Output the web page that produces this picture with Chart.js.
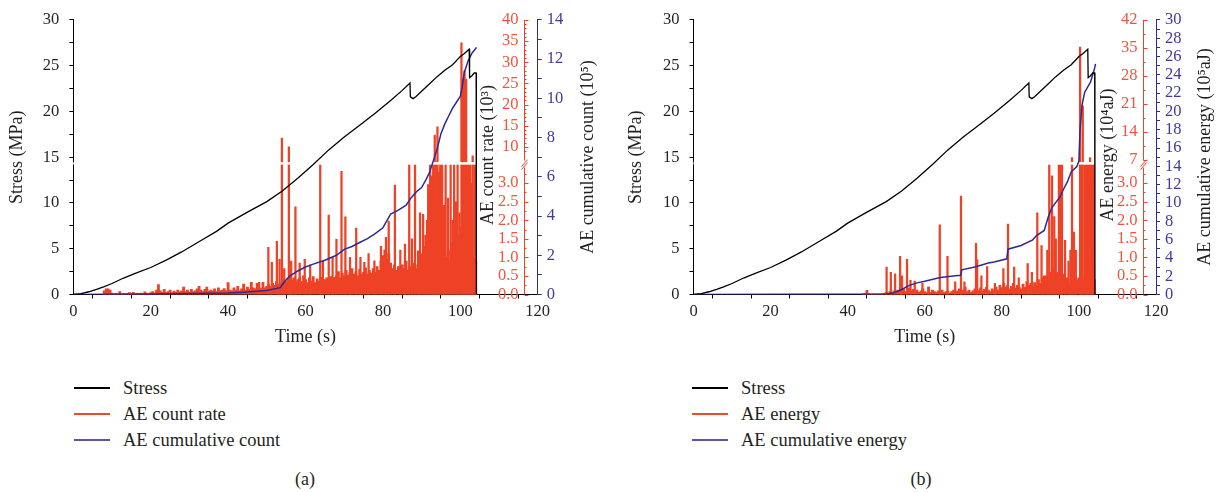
<!DOCTYPE html>
<html>
<head>
<meta charset="utf-8">
<script src="https://cdn.jsdelivr.net/npm/chart.js@4/dist/chart.umd.min.js"></script>
<style>
  body { margin: 0; background: #fff; width: 1221px; height: 492px; position: relative; overflow: hidden;
         font-family: "Liberation Serif", "DejaVu Serif", serif; color: #231f20; }
  canvas { position: absolute; top: 0; }
  #ca { left: 0; }
  #cb { left: 610px; }
  .leg { position: absolute; top: 375px; font-size: 18.5px; }
  .row { position: relative; height: 26px; line-height: 26px; white-space: nowrap; }
  .sw { position: absolute; left: 0; top: 12px; width: 36px; height: 1.6px; }
  .row span { position: absolute; left: 49px; }
  .cap { position: absolute; top: 469px; width: 40px; text-align: center; font-size: 18px; }
</style>
</head>
<body>
<canvas id="ca" width="610" height="360"></canvas>
<canvas id="cb" width="611" height="360"></canvas>

<div class="leg" style="left:74px">
  <div class="row"><div class="sw" style="background:#000"></div><span>Stress</span></div>
  <div class="row"><div class="sw" style="background:#ee4a30"></div><span>AE count rate</span></div>
  <div class="row"><div class="sw" style="background:#5a56b0"></div><span>AE cumulative count</span></div>
</div>
<div class="leg" style="left:692px">
  <div class="row"><div class="sw" style="background:#000"></div><span>Stress</span></div>
  <div class="row"><div class="sw" style="background:#ee4a30"></div><span>AE energy</span></div>
  <div class="row"><div class="sw" style="background:#5a56b0"></div><span>AE cumulative energy</span></div>
</div>
<div class="cap" style="left:285px">(a)</div>
<div class="cap" style="left:901px">(b)</div>

<script>
// stress curve (same test for both panels)
const stressT = [0, 2, 4, 6, 8, 10, 13, 16, 20, 24, 28, 33, 37, 40, 45, 50, 54, 58, 62, 66, 70, 74, 78, 82, 85, 87,
  87.1, 87.8, 88.5, 90, 92, 94, 96, 98, 100, 101, 102.3, 102.4, 103, 103.6, 104.1, 104.15];
const stressV = [0, 0.1, 0.3, 0.55, 0.85, 1.2, 1.8, 2.3, 2.95, 3.75, 4.65, 5.9, 6.9, 7.8, 9.0, 10.15, 11.3, 12.7, 14.2, 15.8, 17.2, 18.5, 19.8, 21.2, 22.3, 23.1,
  21.6, 21.4, 21.6, 22.2, 23.0, 23.8, 24.5, 25.1, 26.0, 26.3, 26.8, 23.7, 23.9, 24.2, 24.2, 0];

// AE count rate (10^3), background readings every 0.5 s from 8 s, plus single spikes
const rateStart = 8;
const rateBase = [
  .10, .15, .15, .12, .04, .02, .03, .02, .08, .02, .03, .02, .03, .05, .02, .06, .02, .03, .02, .04,
  .02, .07, .03, .02, .05, .08, .04, .12, .27, .10, .06, .14, .05, .08, .12, .05, .09, .06, .12, .07,
  .10, .20, .08, .12, .06, .14, .08, .10, .15, .22, .12, .08, .14, .20, .09, .12, .10, .15, .08, .18,
  .10, .12, .16, .10, .32, .12, .10, .18, .12, .22, .10, .15, .28, .12, .20, .14, .33, .18, .15, .30,
  .20, .16, .33, .18, .22, .28, .22, .30, .25, .35, .28, .30, .38, .30, .35, .42, .30, .38, .45, .32,
  .40, .45, .35, .50, .40, .32, .45, .36, .48, .32, .42, .36, .46, .30, .40, .45, .34, .48, .38, .46,
  .50, .62, .45, .58, .50, .65, .52, .60, .70, .55, .62, .50, .68, .55, .60, .72, .55, .65, .58, .70,
  .60, .75, .65, .90, 1.05, 1.2, .95, 1.1, .85, .70, .80, .65, .75, .60, .80, .70, .90, .65, .75, .60,
  .85, .70, .80, .95, 1.1, .90, 1.3, 2.0, 2.4, 2.6, 2.8, 2.5, 2.2, 2.0, 1.6, 1.3, 1.1, 1.0, .90, 1.2,
  1.4, 1.6, 1.3, 1.6, 1.8, 1.5, 1.3, 1.0, .90, 1.1, .85, 1.0, .90
];
const rateSpikes = [
  [48.0, 0.33], [50.4, 1.27], [51.3, 0.87], [52.6, 1.43], [53.3, 0.95], [53.9, 12.1], [54.5, 0.7], [55.7, 10.0],
  [56.3, 0.9], [57.4, 2.36], [58.5, 0.85], [59.8, 0.95], [61.2, 0.8], [63.8, 5.0], [64.5, 0.9], [66.0, 2.14],
  [67.0, 1.0], [68.0, 1.49], [69.3, 3.32], [70.3, 2.09], [71.5, 1.0], [73.1, 1.79], [74.2, 1.0], [75.2, 0.87],
  [76.3, 1.1], [77.8, 0.91], [79.5, 1.3], [80.8, 1.54], [81.5, 1.98], [83.1, 2.95], [84.5, 1.2], [85.7, 1.36],
  [86.8, 5.0], [87.5, 1.5], [88.3, 4.5], [89.1, 1.18], [89.6, 2.2], [90.4, 2.16], [91.0, 1.6], [91.7, 2.96],
  [92.2, 5.0], [92.7, 3.2], [93.0, 5.0], [93.4, 12.8], [93.8, 5.0], [94.1, 14.7], [94.5, 3.3], [94.8, 5.0],
  [95.3, 5.0], [95.8, 2.4], [96.2, 5.0], [96.8, 2.6], [97.5, 5.0], [98.0, 2.0], [98.4, 5.0], [98.9, 2.5],
  [99.3, 5.0], [99.8, 2.2], [100.3, 34.6], [100.7, 26.0], [101.1, 28.0], [101.5, 26.0], [101.8, 5.0],
  [102.2, 5.0], [102.6, 5.0], [103.0, 3.0], [103.2, 7.9], [103.7, 5.0], [104.0, 5.0]
];

// AE cumulative count (10^5)
const cumCountT = [0, 20, 40, 45, 50, 53.5, 54, 55, 56, 58, 60, 62, 65, 68, 70, 72, 74, 76, 78, 80, 81, 82, 84, 86, 87,
  88, 89, 90, 91, 92, 93, 94, 95, 96, 97, 98, 99, 100, 100.5, 101, 102, 103, 104.2];
const cumCountV = [0, 0.02, 0.08, 0.13, 0.2, 0.35, 0.5, 0.75, 0.95, 1.2, 1.4, 1.55, 1.75, 2.0, 2.3, 2.45, 2.65, 2.85, 3.1, 3.4, 3.75, 4.1, 4.3, 4.55, 4.85,
  5.1, 5.3, 5.45, 5.8, 6.2, 6.8, 7.4, 8.2, 8.7, 9.1, 9.5, 9.8, 10.1, 10.6, 11.3, 11.9, 12.3, 12.6];

// AE energy (10^4 aJ), background every 0.5 s from 44 s, plus single spikes
const energyStart = 44;
const energyBase = [
  .02, .03, .11, .02, .01, .02, .01, .02, .01, .02, .02, .03, .06, .04, .08, .05, .10, .06, .12, .08,
  .10, .15, .08, .12, .18, .10, .14, .08, .12, .06, .10, .15, .08, .05, .20, .06, .12, .08, .05, .10,
  .06, .12, .05, .08, .10, .04, .08, .12, .06, .10, .15, .08, .12, .20, .08, .12, .06, .10, .15, .08,
  .12, .18, .10, .14, .20, .12, .08, .15, .10, .20, .12, .25, .18, .30, .20, .25, .15, .22, .30, .18,
  .25, .20, .15, .28, .20, .35, .25, .30, .20, .32, .25, .40, .30, .45, .35, .50, .40, .60, .50, .70,
  .45, .60, .50, .40, .55, .35, .45, .30, .40, .35, .50, .40, .45, .40, .35, .45, .30, .40, .35, .50,
  .40
];
const energySpikes = [
  [50.1, 0.74], [51.2, 0.6], [52.3, 0.56], [53.6, 1.03], [54.1, 0.5], [55.4, 0.95], [56.3, 0.38], [57.4, 0.36],
  [59.4, 0.3], [61.0, 0.2], [63.9, 1.88], [65.9, 1.03], [67.9, 0.34], [69.4, 2.65], [70.3, 0.34], [73.3, 1.38],
  [73.6, 0.94], [74.7, 0.5], [76.2, 0.75], [78.2, 0.3], [80.4, 0.7], [81.6, 1.9], [83.2, 0.74], [84.4, 0.45],
  [86.7, 0.83], [87.8, 0.6], [89.2, 2.2], [90.3, 1.32], [90.9, 0.5], [91.8, 1.2], [92.3, 5.0], [93.0, 3.2],
  [93.6, 2.1], [94.0, 1.5], [94.8, 5.0], [95.3, 5.0], [95.6, 5.0], [96.4, 1.46], [97.3, 0.9], [97.8, 1.2],
  [98.2, 7.5], [98.7, 1.68], [99.2, 1.19], [100.3, 35.2], [100.6, 5.0], [101.0, 20.5], [101.6, 5.0],
  [102.0, 5.0], [102.4, 5.0], [102.9, 7.5], [103.4, 5.0], [103.9, 5.0]
];

// AE cumulative energy (10^5 aJ)
const cumEnergyT = [0, 50, 52, 54, 56, 58, 60, 64, 68, 69.3, 69.6, 73, 76.5, 78, 81.3, 81.6, 85, 88, 89, 91, 92, 93, 95,
  96, 97, 98, 99.5, 100, 100.3, 100.8, 101.5, 103, 104, 104.3];
const cumEnergyV = [0, 0.05, 0.2, 0.55, 1.0, 1.27, 1.45, 1.85, 2.06, 2.1, 2.7, 3.0, 3.45, 3.55, 3.9, 4.95, 5.36, 5.97, 6.44, 7.0, 8.4, 9.5, 10.6,
  11.5, 12.3, 13.4, 14.0, 14.6, 18.0, 20.7, 22.1, 23.2, 24.6, 25.2];

// tick labels
const xTicks = [0, 20, 40, 60, 80, 100, 120];
const stressTicks = [0, 5, 10, 15, 20, 25, 30];
const redLowTicks = [0, 0.5, 1, 1.5, 2, 2.5, 3];
const rateHighTicks = [10, 15, 20, 25, 30, 35, 40];
const energyHighTicks = [7, 14, 21, 28, 35, 42];
const cumCountTicks = [0, 2, 4, 6, 8, 10, 12, 14];
const cumEnergyTicks = [0, 2, 4, 6, 8, 10, 12, 14, 16, 18, 20, 22, 24, 26, 28, 30];

const RED = '#ee4227', RED_TXT = '#f0553c', BLUE = '#2e2a92', BLUE_TXT = '#3f3a9c', INK = '#231f20';
const FAM = '"Liberation Serif", "DejaVu Serif", serif';

// linear scale with a gap between lowMax and highMin
class BrokenScale extends Chart.LinearScale {
  breakPixel() {
    return this.bottom - (this.bottom - this.top) * this.options.frac;
  }
  getPixelForValue(v) {
    const o = this.options, h = this.bottom - this.top, lh = h * o.frac;
    if (v == null || isNaN(v)) return NaN;
    if (v <= o.lowMax) return this.bottom - (v - this.min) / (o.lowMax - this.min) * lh;
    if (v < o.highMin) return this.bottom - lh;
    return this.bottom - lh - (v - o.highMin) / (this.max - o.highMin) * (h - lh);
  }
  getValueForPixel(p) {
    const o = this.options, h = this.bottom - this.top, lh = h * o.frac;
    const d = this.bottom - p;
    if (d <= lh) return this.min + d / lh * (o.lowMax - this.min);
    return o.highMin + (d - lh) / (h - lh) * (this.max - o.highMin);
  }
}
BrokenScale.id = 'broken';
BrokenScale.defaults = Chart.LinearScale.defaults;
Chart.register(BrokenScale);

function redAxis(p) {
  return {
    id: 'redAxis',
    afterDatasetDraw(chart, args) {
      if (args.index !== 2) return;
      const s = chart.scales.yr, a = chart.chartArea;
      const ax = chart.scales.x.getPixelForValue(p.redAt);
      const yb = s.breakPixel();
      chart.ctx.save();
      chart.ctx.fillStyle = '#fff';
      chart.ctx.fillRect(a.left, yb - 2.5, ax - a.left - 1, 2.5);
      chart.ctx.restore();
    },
    afterDraw(chart) {
      const c = chart.ctx, s = chart.scales.yr;
      const ax = Math.round(chart.scales.x.getPixelForValue(p.redAt)) + 0.5;
      const yb = s.breakPixel();
      const seg = (x1, y1, x2, y2) => { c.beginPath(); c.moveTo(x1, y1); c.lineTo(x2, y2); c.stroke(); };
      c.save();
      c.strokeStyle = RED;
      c.lineWidth = 1;
      seg(ax, s.top, ax, yb - 4);
      seg(ax, yb + 3, ax, s.bottom);
      seg(ax - 3, yb + 2, ax + 3, yb - 5);
      seg(ax - 3, yb + 5, ax + 3, yb - 2);
      // ticks
      for (let v = 0; v <= 3.25; v += 0.25) {
        const y = Math.round(s.getPixelForValue(v)) + 0.5;
        seg(ax, y, ax + (redLowTicks.includes(v) ? 4 : 2), y);
      }
      for (let v = p.highTicks[0] - p.minorStep; v <= p.redMax + 0.01; v += p.minorStep) {
        if (v < p.highMin + 0.5) continue;
        const y = Math.round(s.getPixelForValue(v)) + 0.5;
        seg(ax, y, ax + (p.highTicks.includes(v) ? 4 : 2), y);
      }
      // labels
      c.fillStyle = RED_TXT;
      c.font = '16.5px ' + FAM;
      c.textAlign = 'right';
      c.textBaseline = 'middle';
      redLowTicks.forEach(v => c.fillText(v.toFixed(1), ax - 6, s.getPixelForValue(v)));
      p.highTicks.forEach(v => c.fillText(String(v), ax - 6, s.getPixelForValue(v)));
      // right-hand axis titles, read bottom to top
      c.fillStyle = INK;
      c.font = '18px ' + FAM;
      c.textAlign = 'center';
      p.titles.forEach(t => {
        c.save();
        c.translate(t.x, t.y);
        c.rotate(-Math.PI / 2);
        c.fillText(t.text, 0, 0);
        c.restore();
      });
      c.restore();
    }
  };
}

function makePanel(p) {
  const pts = (ts, vs) => ts.map((t, i) => ({x: t, y: vs[i]}));
  const base = p.base.map((v, i) => ({x: p.baseStart + i * 0.5, y: v}));
  const spikes = p.spikes.map(([t, v]) => ({x: t, y: v}));
  const W = document.getElementById(p.canvas).width;
  const tickFont = {family: FAM, size: 16.5};
  return new Chart(document.getElementById(p.canvas), {
    type: 'bar',
    data: {
      datasets: [
        {type: 'line', label: 'Stress', data: pts(stressT, stressV), borderColor: '#000', borderWidth: 1.3,
         pointRadius: 0, yAxisID: 'ys', order: 1},
        {type: 'line', label: p.cumLabel, data: pts(p.cumT, p.cumV), borderColor: BLUE, borderWidth: 1.5,
         pointRadius: 0, yAxisID: 'yc', order: 2},
        {type: 'bar', label: p.redLabel, data: spikes, backgroundColor: RED, barThickness: 1.6,
         grouped: false, yAxisID: 'yr', order: 3},
        {type: 'bar', label: p.redLabel, data: base, backgroundColor: RED, barThickness: 2.2,
         grouped: false, yAxisID: 'yr', order: 4}
      ]
    },
    options: {
      responsive: false,
      animation: false,
      events: [],
      layout: {padding: {left: 0, right: 0, top: 17.5, bottom: 0}},
      plugins: {legend: {display: false}, tooltip: {enabled: false}},
      scales: {
        x: {
          type: 'linear', min: 0, max: 120, offset: false,
          ticks: {stepSize: 10, autoSkip: false, maxRotation: 0, padding: 3, color: INK, font: tickFont,
                  callback: v => xTicks.includes(v) ? String(v) : ''},
          grid: {drawOnChartArea: false, tickLength: 4, color: '#000'},
          border: {color: '#000', width: 1},
          title: {display: true, text: 'Time (s)', color: INK, font: {family: FAM, size: 18}, padding: {top: 0, bottom: 12}},
          afterFit: s => { s.height = 360 - 294.5; }
        },
        ys: {
          position: 'left', min: 0, max: 30,
          ticks: {stepSize: 2.5, autoSkip: false, padding: 10, color: INK, font: tickFont,
                  callback: v => stressTicks.includes(v) ? String(v) : ''},
          grid: {drawOnChartArea: false, tickLength: 4, color: '#000'},
          border: {color: '#000', width: 1},
          title: {display: true, text: 'Stress (MPa)', color: INK, font: {family: FAM, size: 18}, padding: {top: p.stressPad, bottom: 0}},
          afterFit: s => { s.width = p.left; }
        },
        yr: {
          type: 'broken', position: 'right', display: false, min: 0, max: p.redMax,
          lowMax: 3.5, highMin: p.highMin, frac: 0.473
        },
        yc: {
          position: 'right', min: 0, max: p.cumMax,
          ticks: {stepSize: 1, autoSkip: false, padding: 5, color: BLUE_TXT, font: tickFont,
                  callback: v => p.cumTicks.includes(v) ? String(v) : ''},
          grid: {drawOnChartArea: false, tickLength: 4, color: BLUE},
          border: {color: BLUE, width: 1},
          afterFit: s => { s.width = W - p.right; }
        }
      }
    },
    plugins: [redAxis(p)]
  });
}

makePanel({
  canvas: 'ca', left: 73.3, right: 537.7, stressPad: 6,
  base: rateBase, baseStart: rateStart, spikes: rateSpikes, redLabel: 'AE count rate',
  cumT: cumCountT, cumV: cumCountV, cumMax: 14, cumTicks: cumCountTicks, cumLabel: 'AE cumulative count',
  redMax: 40, highMin: 5.8, highTicks: rateHighTicks, minorStep: 1, redAt: 116.5,
  titles: [{text: 'AE count rate (10³)', x: 488, y: 155}, {text: 'AE cumulative count (10⁵)', x: 588, y: 157}]
});

makePanel({
  canvas: 'cb', left: 83.5, right: 546, stressPad: 15,
  base: energyBase, baseStart: energyStart, spikes: energySpikes, redLabel: 'AE energy',
  cumT: cumEnergyT, cumV: cumEnergyV, cumMax: 30, cumTicks: cumEnergyTicks, cumLabel: 'AE cumulative energy',
  redMax: 42, highMin: 5.75, highTicks: energyHighTicks, minorStep: 3.5, redAt: 116.5,
  titles: [{text: 'AE energy (10⁴aJ)', x: 498, y: 155}, {text: 'AE cumulative energy (10⁵aJ)', x: 595, y: 157}]
});
</script>
</body>
</html>
